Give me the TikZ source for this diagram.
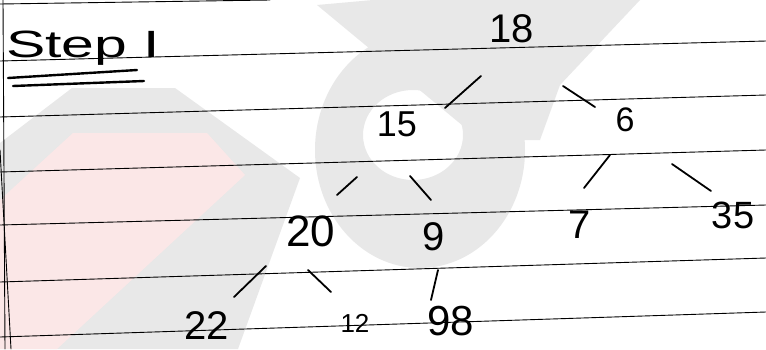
\documentclass[tikz,border=0pt]{standalone}
\usepackage{fontspec}
\setmainfont{Liberation Sans}
\definecolor{wmgrey}{RGB}{232,232,232}
\definecolor{wmpink}{RGB}{251,231,231}
\begin{document}
\begin{tikzpicture}[x=1pt,y=-1pt,line cap=round,line join=round,
  rule/.style={black,line width=0.9pt},
  ink/.style={black,line width=1.8pt},
  num/.style={inner sep=0pt,font=\fontsize{40}{40}\selectfont},
  small/.style={inner sep=0pt,font=\fontsize{26}{26}\selectfont}]
\useasboundingbox (0,0) rectangle (766,349);
\clip (0,0) rectangle (766,349);
\fill[white] (0,0) rectangle (766,349);
% watermark
\fill[wmgrey] (0,143) -- (72,88) -- (175,88) -- (300,178) -- (238,349) -- (0,349) -- cycle;
\fill[wmpink] (0,200) -- (73,133) -- (207,133) -- (245,175) -- (57,349) -- (0,349) -- cycle;
\fill[wmgrey,even odd rule] (420,150) ellipse [x radius=105,y radius=118]
  (413,135) ellipse [x radius=50,y radius=45];
\fill[wmgrey] (317,5) -- (373,0) -- (640,0) -- (560,85) -- (540,140) -- (480,140) -- cycle;
% ruled lines
\draw[rule] (0,4) -- (270,0);
\draw[rule] (0,61) -- (766,41);
\draw[rule] (0,117) -- (766,95);
\draw[rule] (0,172) -- (766,150);
\draw[rule] (0,225) -- (766,205);
\draw[rule] (0,282) -- (766,258);
\draw[rule] (0,337) -- (766,312);
\draw[rule] (3,0) -- (5,349);
\draw[rule] (0,150) -- (11,349);
% title
\node[inner sep=0pt,font=\fontsize{38}{38}\selectfont,xscale=1.55,anchor=base west] (title) at (6,57) {Step I};
\draw[black,line width=2.4pt] (8,78) -- (137,70);
\draw[black,line width=2.4pt] (13,86) -- (144,81);
% numbers
\node[num] (n18) at (512,29) {18};
\node[num,font=\fontsize{36}{36}\selectfont] (n15) at (397,124) {15};
\node[num,font=\fontsize{34}{34}\selectfont] (n6) at (625,120) {6};
\node[num,font=\fontsize{44}{44}\selectfont] (n20) at (311,231) {20};
\node[num] (n9) at (434,237) {9};
\node[num] (n7) at (580,225) {7};
\node[num,font=\fontsize{38}{38}\selectfont] (n35) at (733,215) {35};
\node[num] (n22) at (207,326) {22};
\node[small] (n12) at (355,323) {12};
\node[num,font=\fontsize{42}{42}\selectfont] (n98) at (451,321) {98};
% connector strokes
\coordinate (a1) at (481,76); \coordinate (b1) at (445,108);
\coordinate (a2) at (563,86); \coordinate (b2) at (595,107);
\coordinate (a3) at (357,177); \coordinate (b3) at (337,195);
\coordinate (a4) at (410,176); \coordinate (b4) at (431,200);
\coordinate (a5) at (610,155); \coordinate (b5) at (584,188);
\coordinate (a6) at (672,164); \coordinate (b6) at (711,191);
\coordinate (a7) at (266,266); \coordinate (b7) at (234,297);
\coordinate (a8) at (308,270); \coordinate (b8) at (331,292);
\coordinate (a9) at (438,270); \coordinate (b9) at (431,300);
\draw[ink] (a1) -- (b1);
\draw[ink] (a2) -- (b2);
\draw[ink] (a3) -- (b3);
\draw[ink] (a4) -- (b4);
\draw[ink] (a5) -- (b5);
\draw[ink] (a6) -- (b6);
\draw[ink] (a7) -- (b7);
\draw[ink] (a8) -- (b8);
\draw[ink] (a9) -- (b9);
\end{tikzpicture}
\end{document}
